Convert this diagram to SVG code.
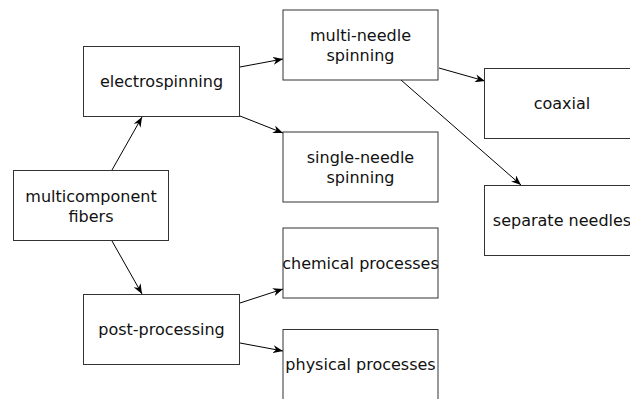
<svg xmlns="http://www.w3.org/2000/svg" width="630" height="399" viewBox="0 0 630 399">
<defs>
<style>
.box{fill:#fff;stroke:#333;stroke-width:1}
.lbl{font-family:"DejaVu Sans",sans-serif;font-size:16px;fill:#111;text-anchor:middle}
.edge{stroke:#000;stroke-width:1;fill:none;marker-end:url(#ah)}
</style>
<marker id="ah" viewBox="0 0 10 8" refX="10" refY="4" markerWidth="10" markerHeight="8" markerUnits="userSpaceOnUse" orient="auto">
<path d="M0,0 L10,4 L0,8 L3,4 Z" fill="#000"/>
</marker>
</defs>
<rect width="630" height="399" fill="#fff"/>
<g id="connectors">
<line class="edge" x1="112" y1="170" x2="142" y2="117"/>
<line class="edge" x1="112" y1="241" x2="142" y2="294"/>
<line class="edge" x1="240" y1="67" x2="283" y2="59"/>
<line class="edge" x1="240" y1="116" x2="283" y2="133"/>
<line class="edge" x1="439" y1="68" x2="485" y2="81"/>
<line class="edge" x1="401" y1="80" x2="521" y2="185"/>
<line class="edge" x1="240" y1="303" x2="283" y2="289"/>
<line class="edge" x1="240" y1="343" x2="283" y2="351"/>
</g>
<g id="multicomponent">
<rect class="box" x="13.5" y="170.5" width="155" height="70"/>
<text class="lbl" x="91" y="201.5">multicomponent</text>
<text class="lbl" x="91" y="221.5">fibers</text>
</g>
<g id="electrospinning">
<rect class="box" x="83.5" y="46.5" width="156" height="70"/>
<text class="lbl" x="161.5" y="86.5">electrospinning</text>
</g>
<g id="post-processing">
<rect class="box" x="83.5" y="294.5" width="156" height="70"/>
<text class="lbl" x="161.5" y="334.5">post-processing</text>
</g>
<g id="multi-needle">
<rect class="box" x="283" y="10" width="155" height="70"/>
<text class="lbl" x="360.5" y="40.5">multi-needle</text>
<text class="lbl" x="360.5" y="60.5">spinning</text>
</g>
<g id="single-needle">
<rect class="box" x="283" y="132" width="155" height="70"/>
<text class="lbl" x="360.5" y="162.5">single-needle</text>
<text class="lbl" x="360.5" y="182.5">spinning</text>
</g>
<g id="chemical">
<rect class="box" x="283" y="228" width="155" height="70"/>
<text class="lbl" x="360.5" y="268.5">chemical processes</text>
</g>
<g id="physical">
<rect class="box" x="283" y="329.5" width="155" height="70"/>
<text class="lbl" x="360.5" y="369.5">physical processes</text>
</g>
<g id="coaxial">
<rect class="box" x="484.5" y="68.5" width="155" height="70"/>
<text class="lbl" x="562" y="108.5">coaxial</text>
</g>
<g id="separate-needles">
<rect class="box" x="484.5" y="185.5" width="155" height="70"/>
<text class="lbl" x="562" y="225.5">separate needles</text>
</g>
</svg>
